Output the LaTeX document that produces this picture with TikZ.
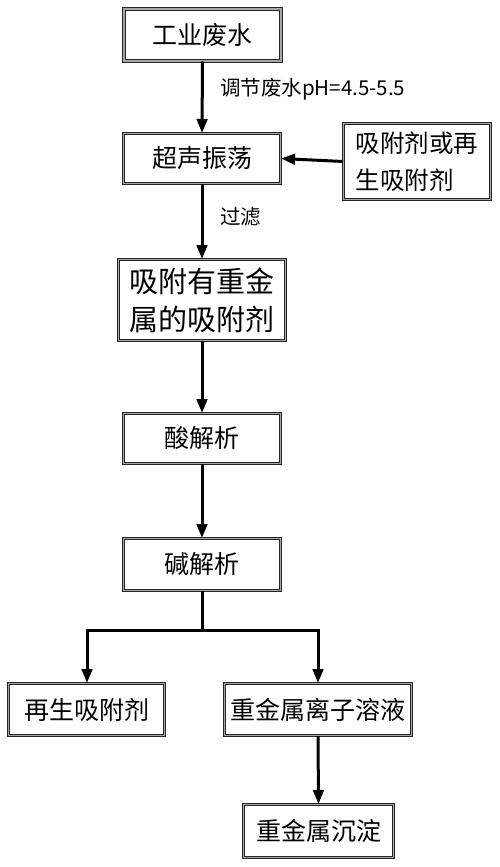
\documentclass[tikz,border=0pt]{standalone}
\usepackage{fontspec}
\setmainfont{Noto Sans CJK SC}
\usetikzlibrary{arrows.meta}
\begin{document}
\begin{tikzpicture}[x=1pt,y=-1pt,
  box/.style={draw=black!85, line width=1pt, double=black!35, double distance=1.5pt,
    inner sep=0pt, font=\fontsize{25}{36}\selectfont, align=center},
  flow/.style={line width=3pt, -{Triangle[length=14pt,width=10.5pt]}},
  plain/.style={line width=3pt},
  lab/.style={font=\fontsize{20.5}{22}\selectfont, anchor=west, inner sep=0pt}]
\useasboundingbox (0,0) rectangle (500,867);
\node[box, minimum width=157pt, minimum height=52pt] (a) at (202.5,35) {工业废水};
\node[box, minimum width=157pt, minimum height=50pt] (b) at (202,158.5) {超声振荡};
\node[box, minimum width=147pt, minimum height=76pt, align=left, font=\fontsize{24.5}{37}\selectfont] (s) at (417,161.5) {吸附剂或再\\生吸附剂};
\node[box, minimum width=167pt, minimum height=81pt, font=\fontsize{29}{38}\selectfont] (c) at (202,300) {吸附有重金\\属的吸附剂};
\node[box, minimum width=157pt, minimum height=50pt] (d) at (202,438.5) {酸解析};
\node[box, minimum width=157pt, minimum height=52pt] (e) at (202,564.5) {碱解析};
\node[box, minimum width=156pt, minimum height=52pt] (f) at (86.5,709.5) {再生吸附剂};
\node[box, minimum width=187pt, minimum height=52pt] (g) at (318,709.5) {重金属离子溶液};
\node[box, minimum width=150pt, minimum height=53pt] (h) at (318.5,831) {重金属沉淀};
\coordinate (j) at (202,630);
\coordinate (jl) at (87,630);
\coordinate (jr) at (318,630);
\draw[flow] (a.south) -- (b.north);
\node[lab] (l1) at (220,89) {调节废水pH=4.5-5.5};
\draw[flow] (s.west) -- (b.east);
\draw[flow] (b.south) -- (c.north);
\node[lab] (l2) at (220,217) {过滤};
\draw[flow] (c.south) -- (d.north);
\draw[flow] (d.south) -- (e.north);
\draw[plain] (e.south) -- (j);
\draw[flow] (jl) -- (jl |- f.north);
\draw[flow] (jr) -- (g.north);
\draw[plain, line cap=rect] (jl) -- (jr);
\draw[flow] (g.south) -- (h.north);
\end{tikzpicture}
\end{document}
